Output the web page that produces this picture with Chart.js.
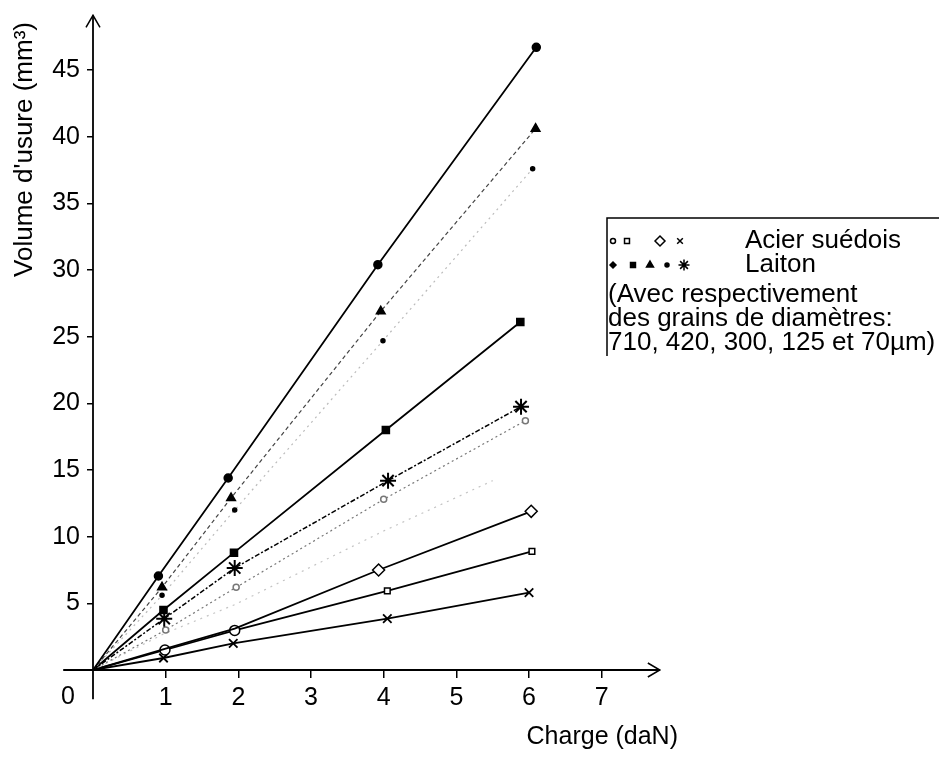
<!DOCTYPE html>
<html>
<head>
<meta charset="utf-8">
<script src="https://cdn.jsdelivr.net/npm/chart.js@4.4.1/dist/chart.umd.min.js"></script>
<style>
  html, body { margin: 0; padding: 0; background: #fff; }
  #wrap { width: 939px; height: 757px; }
</style>
</head>
<body>
<div id="wrap"><canvas id="chart" width="939" height="757"></canvas></div>
<script>
// Axis ticks and titles
const xTicks = [1, 2, 3, 4, 5, 6, 7]
const yTicks = [5, 10, 15, 20, 25, 30, 35, 40, 45]
const originLabel = "0"
const xTitle = "Charge (daN)"
const yTitle = "Volume d'usure (mm³)"

// Laiton (filled markers), charge in daN / volume in mm3
const laitonCircleX = [0, 0.9, 1.86, 3.92, 6.1]
const laitonCircleY = [0, 7.05, 14.4, 30.4, 46.7]
const laitonTriangleX = [0, 0.95, 1.9, 3.96, 6.09]
const laitonTriangleY = [0, 6.2, 12.9, 26.9, 40.6]
const laitonDotX = [0, 0.95, 1.95, 3.99, 6.05]
const laitonDotY = [0, 5.6, 12.0, 24.7, 37.6]
const laitonSquareX = [0, 0.97, 1.94, 4.03, 5.88]
const laitonSquareY = [0, 4.5, 8.8, 18.0, 26.1]
const laitonStarX = [0, 0.98, 1.95, 4.06, 5.89]
const laitonStarY = [0, 3.85, 7.65, 14.2, 19.75]

// Acier suédois (open markers)
const acierCircleX = [0, 1.0, 1.97, 4.0, 5.95]
const acierCircleY = [0, 3.0, 6.2, 12.8, 18.7]
const acierFaintX = [0, 0.97, 1.95, 3.99, 5.5]
const acierFaintY = [0, 2.7, 4.9, 10.4, 14.2]
const acierDiamondX = [0, 1.0, 1.95, 3.93, 6.03]
const acierDiamondY = [0, 1.6, 3.1, 7.5, 11.9]
const acierSquareX = [0, 0.99, 1.95, 4.05, 6.04]
const acierSquareY = [0, 1.5, 2.97, 5.94, 8.9]
const acierCrossX = [0, 0.97, 1.93, 4.05, 6.0]
const acierCrossY = [0, 0.9, 2.0, 3.86, 5.8]

// Legend text
const legendAcier = "Acier suédois"
const legendLaiton = "Laiton"
const legendNote = ["(Avec respectivement", "des grains de diamètres:", "710, 420, 300, 125 et 70µm)"]

const FONT = "'Liberation Sans', Arial, sans-serif"

const toPoints = (xs, ys) => xs.map((x, i) => ({ x: x, y: ys[i] }))
const hideFirst = (r) => (ctx) => (ctx.dataIndex === 0 ? 0 : r)

function series(label, xs, ys, opts) {
  return Object.assign({
    label: label,
    data: toPoints(xs, ys),
    borderColor: "#000",
    backgroundColor: "#000",
    borderWidth: 1.8,
    pointBorderColor: "#000",
    pointBackgroundColor: "#000",
    pointBorderWidth: 1.5,
    tension: 0,
    fill: false,
  }, opts)
}

const datasets = [
  series("Laiton 710", laitonCircleX, laitonCircleY, { pointStyle: "circle", pointRadius: hideFirst(4) }),
  series("Laiton 300", laitonTriangleX, laitonTriangleY, {
    borderColor: "#444", borderWidth: 1.2, borderDash: [4, 3],
    pointStyle: "triangle", pointRadius: hideFirst(5),
  }),
  series("Laiton 125", laitonDotX, laitonDotY, {
    borderColor: "#bbb", borderWidth: 1.2, borderDash: [2, 4],
    pointStyle: "circle", pointRadius: hideFirst(2),
  }),
  series("Laiton 420", laitonSquareX, laitonSquareY, { pointStyle: "rect", pointRadius: hideFirst(5) }),
  series("Laiton 70", laitonStarX, laitonStarY, {
    borderWidth: 1.5, borderDash: [5, 2, 2, 2],
    pointStyle: "star", pointRadius: hideFirst(8), pointBorderWidth: 2,
  }),
  series("Acier 710", acierCircleX, acierCircleY, {
    borderColor: "#777", borderWidth: 1.2, borderDash: [2, 3],
    pointStyle: "circle", pointRadius: hideFirst(3), pointBackgroundColor: "#fff", pointBorderColor: "#777",
  }),
  series("Acier 300", acierFaintX, acierFaintY, {
    borderColor: "#c4c4c4", borderWidth: 1.2, borderDash: [2, 5],
    pointRadius: 0,
  }),
  series("Acier 125", acierDiamondX, acierDiamondY, {
    // the first low-load points hide under the square markers
    pointStyle: "rectRot", pointRadius: (ctx) => (ctx.dataIndex < 3 ? 0 : 6), pointBackgroundColor: "#fff",
  }),
  series("Acier 420", acierSquareX, acierSquareY, {
    pointStyle: (ctx) => (ctx.dataIndex < 3 ? "circle" : "rect"),
    pointRadius: (ctx) => (ctx.dataIndex === 0 ? 0 : ctx.dataIndex < 3 ? 5 : 4),
    pointBackgroundColor: "#fff",
  }),
  series("Acier 70", acierCrossX, acierCrossY, {
    pointStyle: "crossRot", pointRadius: hideFirst(6), pointBorderWidth: 1.8,
  }),
]

function marker(ctx, style, x, y, r, filled) {
  ctx.save()
  ctx.fillStyle = filled ? "#000" : "#fff"
  ctx.strokeStyle = "#000"
  ctx.lineWidth = 1.5
  Chart.helpers.drawPoint(ctx, { pointStyle: style, radius: r, rotation: 0, borderWidth: 1.5 }, x, y)
  ctx.restore()
}

// Axes with arrows, origin label and the boxed legend
const decorPlugin = {
  id: "decor",
  afterDraw(chart) {
    const ctx = chart.ctx
    const xs = chart.scales.x
    const ys = chart.scales.y
    const x0 = xs.getPixelForValue(0)
    const y0 = ys.getPixelForValue(0)
    const xStart = xs.getPixelForValue(-0.41)
    const xEnd = xs.getPixelForValue(7.8)
    const yStart = ys.getPixelForValue(-2.2)
    const yEnd = ys.getPixelForValue(49.1)

    ctx.save()
    ctx.strokeStyle = "#000"
    ctx.lineWidth = 1.8
    ctx.beginPath()
    ctx.moveTo(xStart, y0)
    ctx.lineTo(xEnd, y0)
    ctx.moveTo(x0, yStart)
    ctx.lineTo(x0, yEnd)
    ctx.stroke()
    // arrow heads
    ctx.lineWidth = 1.5
    ctx.beginPath()
    ctx.moveTo(xEnd - 12, y0 - 7)
    ctx.lineTo(xEnd, y0)
    ctx.lineTo(xEnd - 12, y0 + 7)
    ctx.moveTo(x0 - 7, yEnd + 12)
    ctx.lineTo(x0, yEnd)
    ctx.lineTo(x0 + 7, yEnd + 12)
    ctx.stroke()

    ctx.fillStyle = "#000"
    ctx.font = "25px " + FONT
    ctx.textAlign = "center"
    ctx.textBaseline = "middle"
    ctx.fillText(originLabel, x0 - 25, y0 + 27)

    // legend box (top and left border, right side runs off the picture)
    const bx = 607, by = 218
    ctx.lineWidth = 1.5
    ctx.beginPath()
    ctx.moveTo(bx, by + 138)
    ctx.lineTo(bx, by)
    ctx.lineTo(940, by)
    ctx.stroke()

    const row1 = by + 23, row2 = by + 47
    marker(ctx, "circle", 613, row1, 2.5, false)
    marker(ctx, "rect", 627, row1, 3.5, false)
    marker(ctx, "rectRot", 660, row1, 5, false)
    marker(ctx, "crossRot", 680, row1, 4, true)
    marker(ctx, "rectRot", 613, row2, 3, true)
    marker(ctx, "rect", 633, row2, 3.5, true)
    marker(ctx, "triangle", 650, row2, 4, true)
    marker(ctx, "circle", 667, row2, 2, true)
    marker(ctx, "star", 684, row2, 5.5, false)

    ctx.font = "26px " + FONT
    ctx.textAlign = "left"
    ctx.fillText(legendAcier, 745, row1)
    ctx.fillText(legendLaiton, 745, row2)
    legendNote.forEach((t, i) => ctx.fillText(t, 608, by + 77 + i * 24))
    ctx.restore()
  },
}

new Chart(document.getElementById("chart"), {
  type: "line",
  data: { datasets: datasets },
  options: {
    responsive: false,
    animation: false,
    devicePixelRatio: 1,
    layout: { padding: { left: 5, top: 15, right: 261, bottom: 0 } },
    plugins: { legend: { display: false }, tooltip: { enabled: false } },
    scales: {
      x: {
        type: "linear",
        min: 0,
        max: 8.05,
        afterBuildTicks: (s) => { s.ticks = xTicks.map((v) => ({ value: v })) },
        afterFit: (s) => { s.height = 87 },
        border: { display: false },
        grid: { drawOnChartArea: false, drawTicks: true, tickLength: 8, color: "#000", lineWidth: 1.5 },
        ticks: { color: "#000", padding: 5, maxRotation: 0, font: { size: 25, family: FONT } },
        title: {
          display: true, text: xTitle, align: "end", color: "#000",
          font: { size: 25, family: FONT }, padding: { top: 0, bottom: 5 },
        },
      },
      y: {
        type: "linear",
        min: 0,
        max: 48.6,
        afterBuildTicks: (s) => { s.ticks = yTicks.map((v) => ({ value: v })) },
        afterFit: (s) => { s.width = 88 },
        border: { display: false },
        grid: { drawOnChartArea: false, drawTicks: true, tickLength: 6, color: "#000", lineWidth: 1.5 },
        ticks: { color: "#000", padding: 7, font: { size: 25, family: FONT } },
        title: {
          display: true, text: yTitle, align: "end", color: "#000",
          font: { size: 26, family: FONT }, padding: { top: 4, bottom: 0 },
        },
      },
    },
  },
  plugins: [decorPlugin],
})
</script>
</body>
</html>
